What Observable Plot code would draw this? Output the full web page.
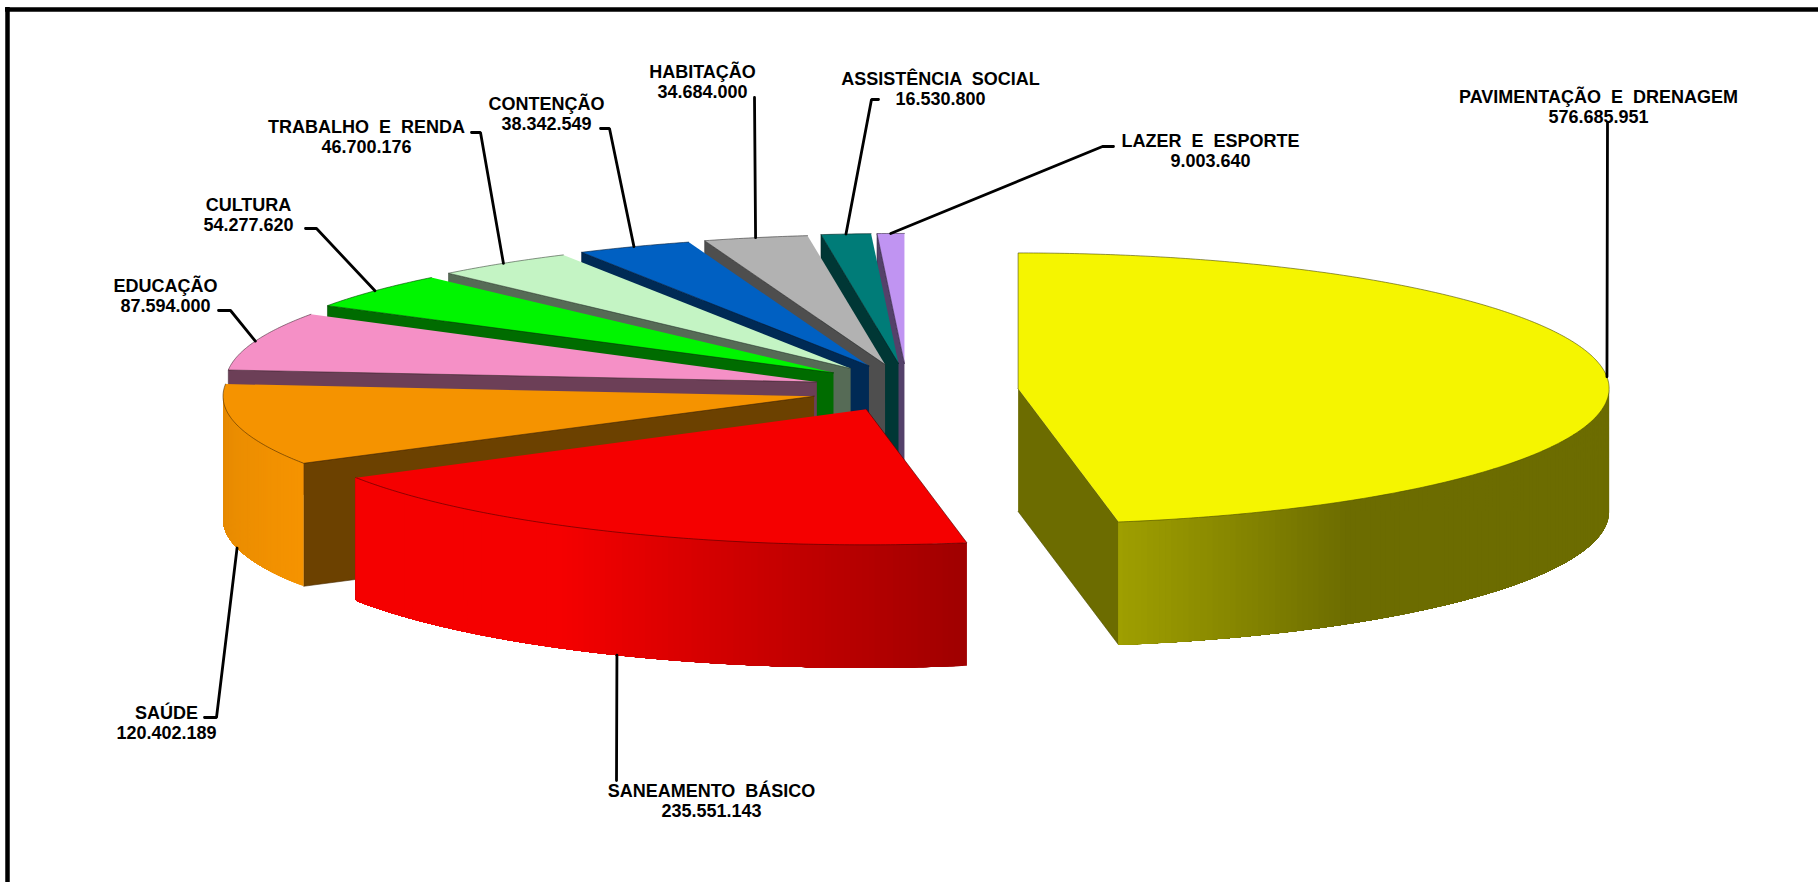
<!DOCTYPE html>
<html lang="pt">
<head>
<meta charset="utf-8">
<script src="https://cdn.jsdelivr.net/npm/d3@7"></script>
<script src="https://cdn.jsdelivr.net/npm/@observablehq/plot@0.6"></script>
<style>
html,body{margin:0;padding:0;background:#fff;overflow:hidden}
svg{display:block}
</style>
</head>
<body>
<div id="chart"></div>
<script>
// ---- Data ----
const categories = ["PAVIMENTAÇÃO E DRENAGEM","SANEAMENTO BÁSICO","SAÚDE","EDUCAÇÃO","CULTURA","TRABALHO E RENDA","CONTENÇÃO","HABITAÇÃO","ASSISTÊNCIA SOCIAL","LAZER E ESPORTE"];
const values = [576685951,235551143,120402189,87594000,54277620,46700176,38342549,34684000,16530800,9003640];
const valueLabels = ["576.685.951","235.551.143","120.402.189","87.594.000","54.277.620","46.700.176","38.342.549","34.684.000","16.530.800","9.003.640"];
const colors = ["#f5f500","#f50000","#f59300","#f590c6","#00f500","#c4f4c4","#0060c2","#b2b2b2","#007c78","#c094f2"];

// ---- Layout of the pseudo-3D pie ----
const W = 1818, H = 882;
const cx = 911, cy = 387, rx = 591, depth = 123, explode = 107, baseRy = 133;
const sliceRy = [135.5,135.5,133,131,130,130,130,130,130,130];
const nudge = [[0,3],[0,0],[7,3.5],[7,2],[5,0.5],[2,0.5],[0,0.5],[-3,0.5],[-3.5,0],[-4.6,0]];
// label block centre (first line) and the elbow of each leader
const labelPos = [[1598,97],[711,791],[166,713],[165,286],[248,205],[366,127],[546,104],[702,72],[940,79],[1210,141]];
const elbows = [[1607,122,1607,122],[616,780,616,780],[216,717,204,717],[230,310,218,310],[316,228,305,228],[480,132,471,132],[609,128,600,128],[754,97,754,97],[871,99,878,99],[1102,146,1113,146]];

// ---- Geometry derived from the values ----
const total = d3.sum(values);
let acc = 0;
const slices = values.map((v,i)=>{
  const a0 = acc/total*360; acc += v; const a1 = acc/total*360; const mid=(a0+a1)/2;
  const r = mid*Math.PI/180;
  return {i,a0,a1,mid,ry:sliceRy[i],
    ax:cx+explode*Math.sin(r)+nudge[i][0],
    ay:cy-explode*(baseRy/rx)*Math.cos(r)+nudge[i][1],color:colors[i]};
});
const pt=(s,a,dy=0)=>{const r=a*Math.PI/180;return [s.ax+rx*Math.sin(r),s.ay-s.ry*Math.cos(r)+dy];};
const shade=(c,k)=>{const o=d3.rgb(c);return d3.rgb(o.r*k,o.g*k,o.b*k).formatHex();};
const light=a=>a<=146?0.44:a<211?0.44+0.56*(a-146)/65:a<=240?1:1-0.07*(a-240)/30;

const polys=[]; let pid=0;
const addPoly=(pts,fill,stroke,sw)=>{const id=pid++;pts.forEach(p=>polys.push({id,x:p[0],y:p[1],fill,stroke,sw}));};
const arc=(s,a,b)=>{const n=Math.max(2,Math.ceil(Math.abs(b-a)*2));return d3.range(n+1).map(k=>pt(s,a+(b-a)*k/n));};
// back slices first, then yellow, then red
const order=[9,8,7,6,5,4,3,2,0,1];
order.forEach(i=>{
  const s=slices[i], dark=shade(s.color,0.44), edge=shade(s.color,0.3), A=[s.ax,s.ay], Ab=[s.ax,s.ay+depth];
  const wall=a=>{const p=pt(s,a);addPoly([A,p,[p[0],p[1]+depth],Ab],dark,edge,0.6);};
  if(s.a0>=180) wall(s.a0);
  if(s.a1<180) wall(s.a1);
  // rim, visible only on the front half: each band paints from its angle to the rim's end, so no seams
  const f=Math.max(s.a0,90), t=Math.min(s.a1,270);
  if(t>f){
    const step=0.6;
    for(let a=f;a<t;a+=step){
      const c=shade(s.color,light(a+step/2));
      const top=arc(s,a,t);
      addPoly([...top,...top.slice().reverse().map(p=>[p[0],p[1]+depth])],c,c,0);
    }
  }
  addPoly([A,...arc(s,s.a0,s.a1)],s.color,edge,0.6);
});

// Leaders
const leaders=[];
slices.forEach((s,i)=>{
  const front=s.mid>90&&s.mid<270;
  const e=pt(s,s.mid,front?depth:0), b=elbows[i];
  [[b[2],b[3]],[b[0],b[1]],e].forEach(p=>leaders.push({i,x:p[0],y:p[1]}));
});
const labels1=categories.map((c,i)=>({t:c,x:labelPos[i][0],y:labelPos[i][1]}));
const labels2=valueLabels.map((c,i)=>({t:c,x:labelPos[i][0],y:labelPos[i][1]+20}));
const textOpts={x:"x",y:"y",text:"t",fontFamily:"Liberation Sans",fontWeight:"bold",fontSize:18,fill:"#000",textAnchor:"middle",lineAnchor:"middle"};

const chart=Plot.plot({
  width:W,height:H,margin:0,
  x:{domain:[0,W],range:[0,W],axis:null},
  y:{domain:[0,H],range:[0,H],axis:null},
  marks:[
    Plot.line(polys,{x:"x",y:"y",z:"id",fill:"fill",stroke:"stroke",strokeWidth:"sw",strokeLinejoin:"round"}),
    Plot.line(leaders,{x:"x",y:"y",z:"i",stroke:"#000",strokeWidth:2.8,strokeLinejoin:"miter"}),
    Plot.text(labels1,textOpts),
    Plot.text(labels2,textOpts),
    Plot.ruleY([9],{x1:5,x2:W,stroke:"#000",strokeWidth:4.5}),
    Plot.ruleX([7],{y1:7,y2:H,stroke:"#000",strokeWidth:4.5})
  ]
});
chart.style.wordSpacing="5px";
document.getElementById("chart").append(chart);
</script>
</body>
</html>
